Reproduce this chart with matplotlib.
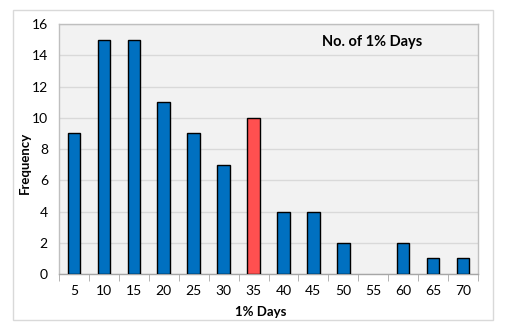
import matplotlib
matplotlib.use("Agg")
import matplotlib.pyplot as plt
from matplotlib.patches import Rectangle
import numpy as np

categories = ["5", "10", "15", "20", "25", "30", "35", "40", "45", "50", "55", "60", "65", "70"]
frequency = [9, 15, 15, 11, 9, 7, 10, 4, 4, 2, 0, 2, 1, 1]
highlight = "35"

plt.rcParams['font.family'] = ['Lato', 'DejaVu Sans']

fig = plt.figure(figsize=(5.06, 3.28), dpi=100)
fig.patch.set_facecolor('white')
fig.patches.append(Rectangle((0.0257, 0.0244), 0.9483, 0.9451, transform=fig.transFigure,
                             fill=False, edgecolor='#D9D9D9', linewidth=1.0))

ax = fig.add_axes([0.1166, 0.1646, 0.8281, 0.7622])
ax.set_facecolor('#F2F2F2')
x = np.arange(len(categories))
colors = ['#FF5050' if c == highlight else '#0070C0' for c in categories]
lws = [1.0 if v > 0 else 0.0 for v in frequency]
ax.bar(x, frequency, width=0.42, color=colors, edgecolor='black', linewidth=lws, zorder=3)

ax.set_xlim(-0.5, len(categories) - 0.5)
ax.set_ylim(0, 16)
ax.set_yticks(np.arange(0, 17, 2))
ax.set_xticks(x)
ax.set_xticklabels(categories)
ax.set_xticks(np.arange(-0.5, len(categories), 1), minor=True)
ax.tick_params(axis='x', which='major', length=0, pad=8, labelsize=10)
ax.tick_params(axis='x', which='minor', length=5, color='#A6A6A6', direction='out')
ax.tick_params(axis='y', length=0, pad=8, labelsize=10)
ax.grid(axis='y', color='#D9D9D9', linewidth=1.0, zorder=0)
ax.set_axisbelow(True)
for s in ax.spines.values():
    s.set_color('#BFBFBF')
    s.set_linewidth(1.0)
ax.spines['bottom'].set_color('#A6A6A6')

fig.text(261 / 506, 1 - 312 / 328, '1% Days', ha='center', va='center',
         fontsize=9.5, fontweight='bold')
fig.text(25 / 506, 1 - 163 / 328, 'Frequency', ha='center', va='center', rotation=90,
         fontsize=9.5, fontweight='bold')
ax.text(0.747, 0.928, 'No. of 1% Days', transform=ax.transAxes, ha='center', va='center',
        fontsize=10.5, fontweight='bold')

fig.savefig('out.png', dpi=100, facecolor='white')
